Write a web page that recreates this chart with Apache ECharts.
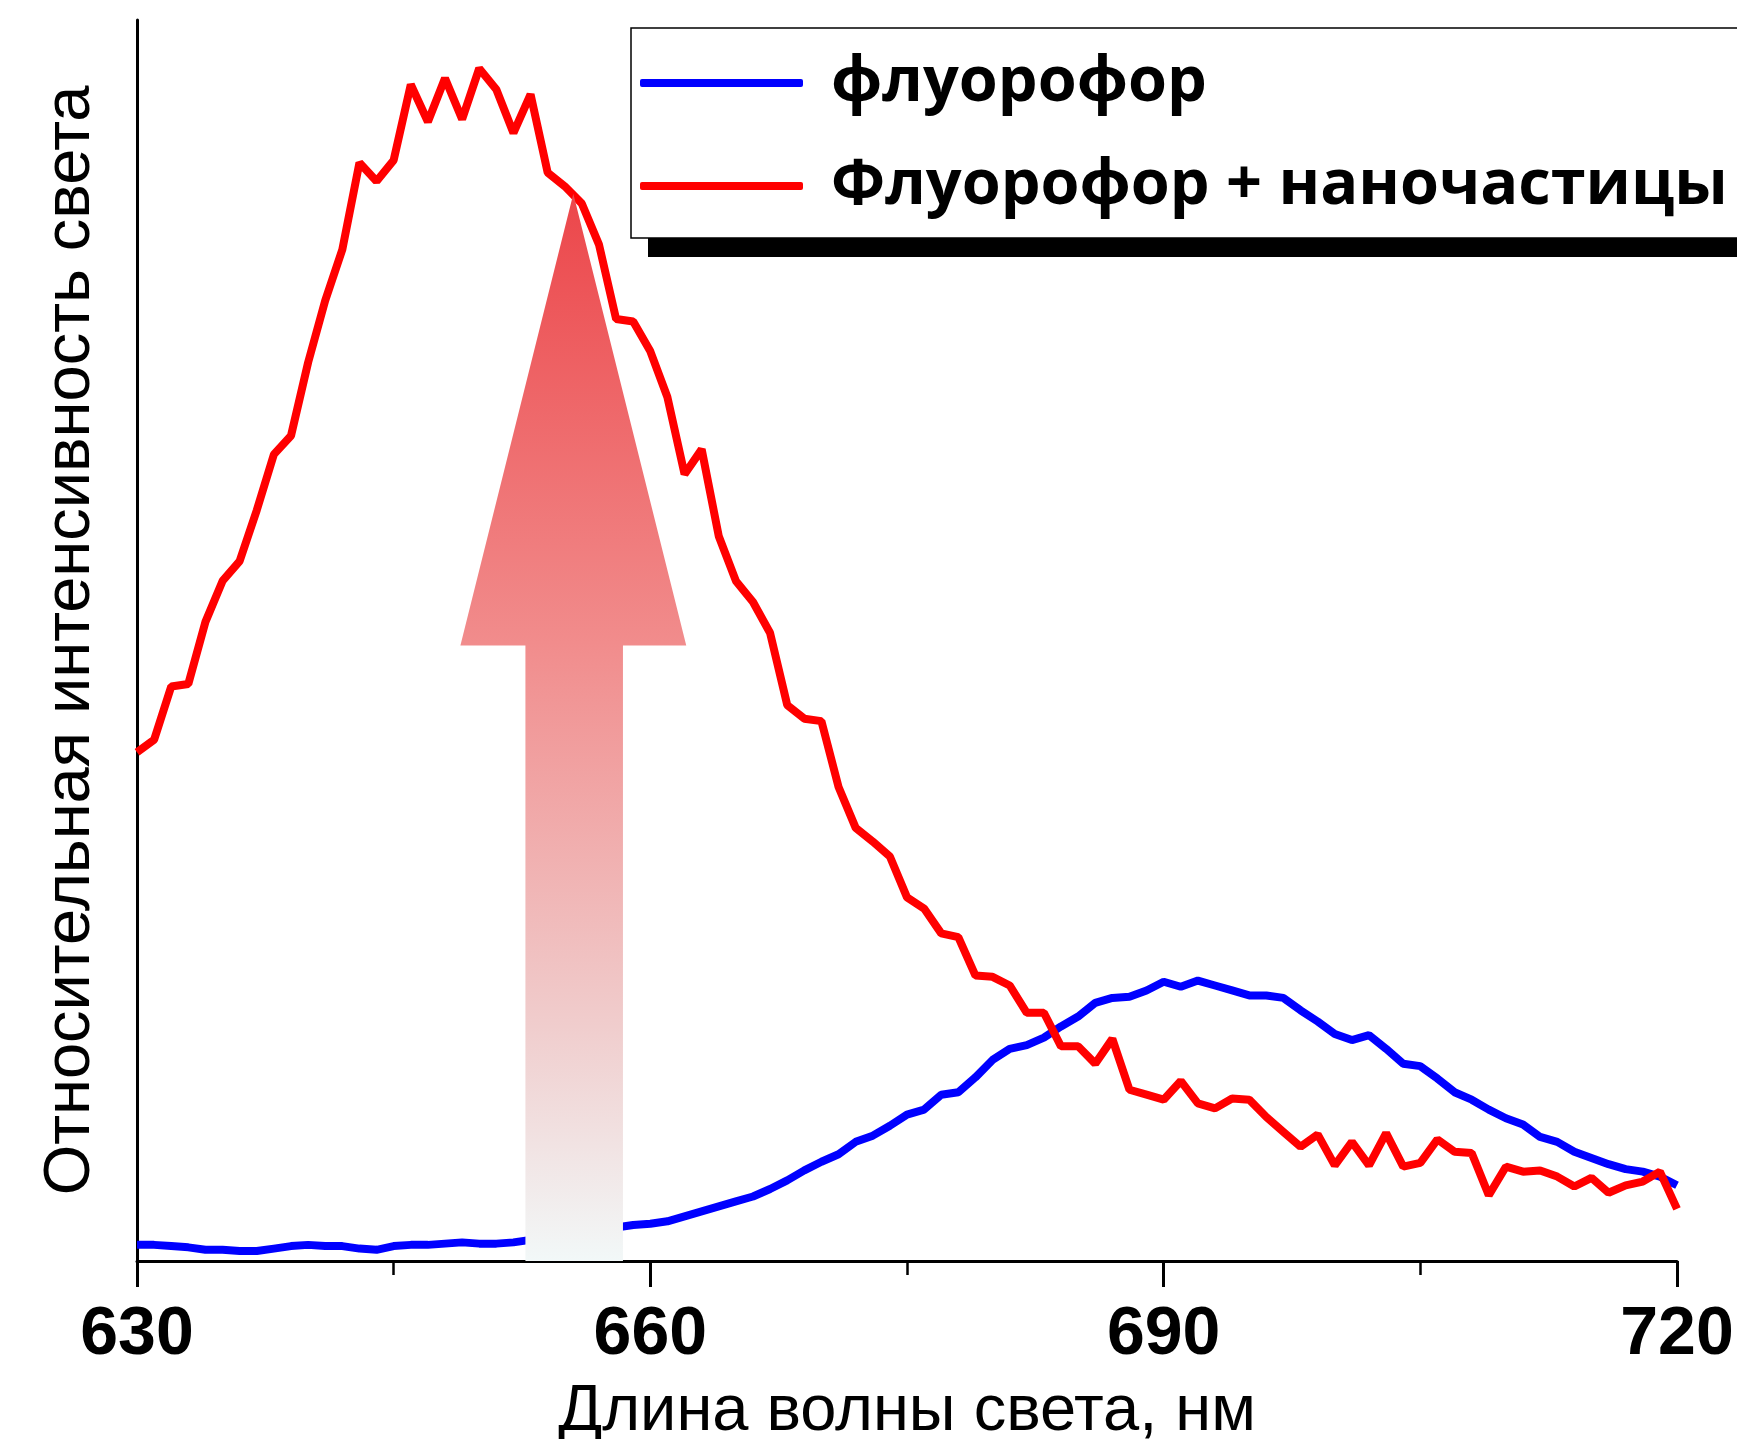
<!DOCTYPE html>
<html lang="ru">
<head>
<meta charset="UTF-8">
<script src="https://cdn.jsdelivr.net/npm/echarts@6/dist/echarts.min.js"></script>
<style>
  html, body { margin: 0; padding: 0; background: #fff; }
  #chart { width: 1737px; height: 1439px; }
</style>
</head>
<body>
<div id="chart"></div>
<script>
// wavelength grid, nm (1 nm step)
var wavelengths = [];
for (var w = 630; w <= 720; w++) wavelengths.push(w);

// relative intensity (0..100 = axis bottom..top)
var fluorophore = [
  1.3, 1.3, 1.2, 1.1, 0.9, 0.9, 0.8, 0.8, 1.0, 1.2,
  1.3, 1.2, 1.2, 1.0, 0.9, 1.2, 1.3, 1.3, 1.4, 1.5,
  1.4, 1.4, 1.5, 1.7, 2.0, 2.2, 2.3, 2.5, 2.7, 2.9,
  3.0, 3.2, 3.6, 4.0, 4.4, 4.8, 5.2, 5.8, 6.5, 7.3,
  8.0, 8.6, 9.6, 10.1, 10.9, 11.8, 12.2, 13.4, 13.6, 14.8,
  16.2, 17.1, 17.4, 18.0, 18.9, 19.7, 20.8, 21.2, 21.3, 21.8,
  22.5, 22.1, 22.6, 22.2, 21.8, 21.4, 21.4, 21.2, 20.2, 19.3,
  18.3, 17.8, 18.2, 17.1, 15.9, 15.7, 14.7, 13.6, 13.0, 12.2,
  11.5, 11.0, 10.0, 9.6, 8.8, 8.3, 7.8, 7.4, 7.2, 6.8,
  6.1
];
var withParticles = [
  41.0, 42.0, 46.3, 46.5, 51.5, 54.8, 56.4, 60.5, 65.0, 66.5,
  72.4, 77.4, 81.5, 88.5, 87.0, 88.7, 94.8, 91.8, 95.3, 92.0,
  96.1, 94.4, 90.9, 94.0, 87.7, 86.6, 85.2, 81.9, 75.9, 75.7,
  73.3, 69.6, 63.4, 65.4, 58.4, 54.8, 53.1, 50.6, 44.8, 43.7,
  43.5, 38.2, 34.9, 33.8, 32.6, 29.3, 28.4, 26.4, 26.1, 23.0,
  22.9, 22.2, 20.0, 20.0, 17.3, 17.3, 15.9, 17.9, 13.8, 13.4,
  13.0, 14.5, 12.7, 12.3, 13.1, 13.0, 11.6, 10.4, 9.2, 10.2,
  7.7, 9.6, 7.7, 10.3, 7.6, 7.9, 9.8, 8.8, 8.7, 5.3,
  7.6, 7.2, 7.3, 6.8, 6.0, 6.7, 5.5, 6.1, 6.4, 7.2,
  4.2
];
var seriesNames = ['флуорофор', 'Флуорофор + наночастицы'];
var xTicks = [630, 660, 690, 720];

// up-arrow annotation, in data units
var arrowTip = [655.5, 86.0];
var arrowHead = { left: 648.9, right: 662.1, base: 49.6 };
var arrowShaft = { left: 652.7, right: 658.4, bottom: 0 };

function pairs(ys) {
  return wavelengths.map(function (x, i) { return [x, ys[i]]; });
}

var chart = echarts.init(document.getElementById('chart'));
var option = {
  animation: false,
  backgroundColor: '#fff',
  grid: { left: 137, right: 60, top: 20, bottom: 178, outerBoundsMode: 'none' },
  legend: {
    orient: 'vertical',
    left: 631, top: 28,
    padding: [8.5, 80, 5.5, 9],
    itemGap: 10,
    itemWidth: 163,
    itemHeight: 8,
    icon: 'roundRect',
    backgroundColor: '#fff',
    borderColor: '#000',
    borderWidth: 1.5,
    borderRadius: 0,
    z: 6,
    textStyle: {
      fontFamily: 'Open Sans',
      fontWeight: 'bold',
      fontSize: 63,
      lineHeight: 70,
      color: '#000',
      padding: [23, 0, 0, 23]
    },
    data: seriesNames
  },
  xAxis: {
    type: 'value',
    min: 630, max: 720, interval: 30,
    name: 'Длина волны света, нм',
    nameLocation: 'middle',
    nameGap: 119,
    nameTextStyle: { fontFamily: 'Liberation Sans', fontSize: 65, color: '#000' },
    axisLine: { lineStyle: { color: '#000', width: 3 } },
    axisTick: { show: true, length: 26, lineStyle: { color: '#000', width: 3 } },
    minorTick: { show: true, splitNumber: 2, length: 14, lineStyle: { color: '#000', width: 2.5 } },
    splitLine: { show: false },
    axisLabel: {
      margin: 40,
      fontFamily: 'Liberation Sans',
      fontWeight: 'bold',
      fontSize: 68,
      color: '#000',
      customValues: xTicks
    }
  },
  yAxis: {
    type: 'value',
    min: 0, max: 100,
    name: 'Относительная интенсивность света',
    nameLocation: 'middle',
    nameGap: 33,
    nameTextStyle: { fontFamily: 'Liberation Sans', fontSize: 65, color: '#000' },
    axisLine: { show: true, lineStyle: { color: '#000', width: 3 } },
    axisTick: { show: false },
    axisLabel: { show: false },
    splitLine: { show: false }
  },
  series: [
    {
      name: seriesNames[0],
      type: 'line',
      data: pairs(fluorophore),
      symbol: 'none',
      lineStyle: { color: '#0000ff', width: 8 },
      itemStyle: { color: '#0000ff' },
      z: 3
    },
    {
      name: seriesNames[1],
      type: 'line',
      data: pairs(withParticles),
      symbol: 'none',
      lineStyle: { color: '#ff0000', width: 8 },
      itemStyle: { color: '#ff0000' },
      z: 3
    }
  ]
};
chart.setOption(option);

// arrow + legend shadow, positioned through the axes
function px(x, y) { return chart.convertToPixel({ gridIndex: 0 }, [x, y]); }
var tip = px(arrowTip[0], arrowTip[1]);
var hl = px(arrowHead.left, arrowHead.base);
var hr = px(arrowHead.right, arrowHead.base);
var sl = px(arrowShaft.left, arrowHead.base);
var sr = px(arrowShaft.right, arrowHead.base);
var bl = px(arrowShaft.left, arrowShaft.bottom);
var br = px(arrowShaft.right, arrowShaft.bottom);

chart.setOption({
  graphic: [
    {
      type: 'polygon',
      z: 10,
      shape: { points: [tip, hr, sr, br, bl, sl, hl] },
      style: {
        fill: new echarts.graphic.LinearGradient(0, 0, 0, 1, [
          { offset: 0, color: '#ec464a' },
          { offset: 0.42, color: '#f18c8c' },
          { offset: 0.78, color: '#f0cdcd' },
          { offset: 1, color: '#f2f8f8' }
        ])
      }
    },
    {
      type: 'rect',
      z: 1,
      shape: { x: 648, y: 47, width: 1200, height: 210 },
      style: { fill: '#000' }
    }
  ]
});
</script>
</body>
</html>
